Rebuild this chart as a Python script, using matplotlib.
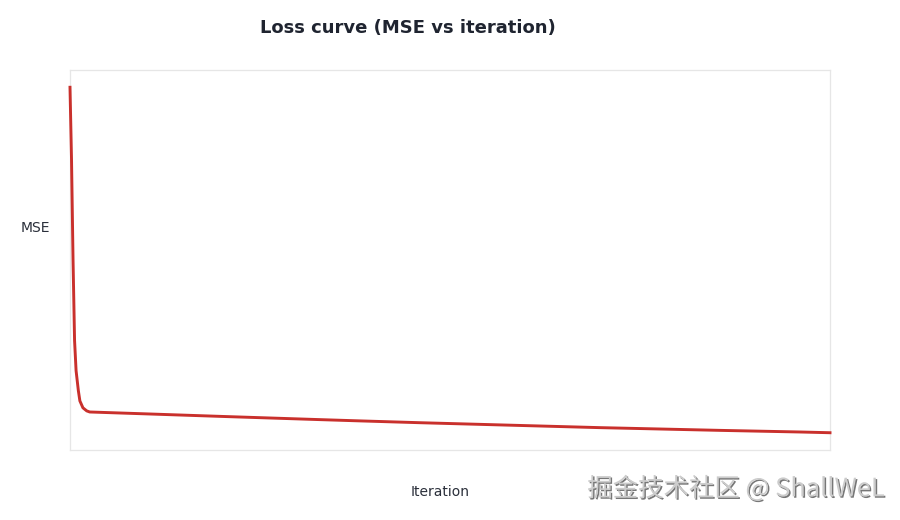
import numpy as np
import matplotlib
matplotlib.use('Agg')
import matplotlib.pyplot as plt
import matplotlib.patheffects as pe

# loss values (arbitrary MSE units)
iteration = [0, 2, 4, 6, 8, 11, 13, 17, 22, 26, 105, 197, 329, 382,
             461, 592, 697, 855, 961, 1000]
mse = [2.000, 1.602, 1.050, 0.608, 0.442, 0.332, 0.276, 0.238, 0.221, 0.215,
       0.204, 0.191, 0.173, 0.166, 0.156, 0.141, 0.129, 0.114, 0.105, 0.101]

title = 'Loss curve (MSE vs iteration)'
watermark = '掘金技术社区 @ ShallWeL'

fig = plt.figure(figsize=(9, 5.2), dpi=100)
ax = fig.add_axes([70/900, 1-450/520, 760/900, 380/520])
ax.plot(iteration, mse, color='#c9302c', lw=2.1, clip_on=False, zorder=3)
ax.set_xlim(min(iteration), max(iteration))
ax.margins(y=0.05)
ax.set_xticks([])
ax.set_yticks([])
for s in ax.spines.values():
    s.set_color('#e6e6e6')
    s.set_linewidth(0.9)

fig.text(408/900, 1-28/520, title, ha='center', va='center',
         fontsize=13, fontweight='bold', color='#1f2430')
fig.text(35/900, 1-228/520, 'MSE', ha='center', va='center',
         fontsize=10, color='#2a2f3a')
fig.text(440/900, 1-492/520, 'Iteration', ha='center', va='center',
         fontsize=10, color='#2a2f3a')

wm = fig.text(736/900, 1-489/520, watermark, ha='center', va='center',
              fontsize=18.3, color='#cccccc',
              family=['Noto Sans CJK SC', 'DejaVu Sans'])
wm.set_path_effects([pe.SimplePatchShadow(offset=(1, -1), shadow_rgbFace='#555555', alpha=0.8),
                     pe.Normal()])

fig.savefig('out.png', dpi=100)
